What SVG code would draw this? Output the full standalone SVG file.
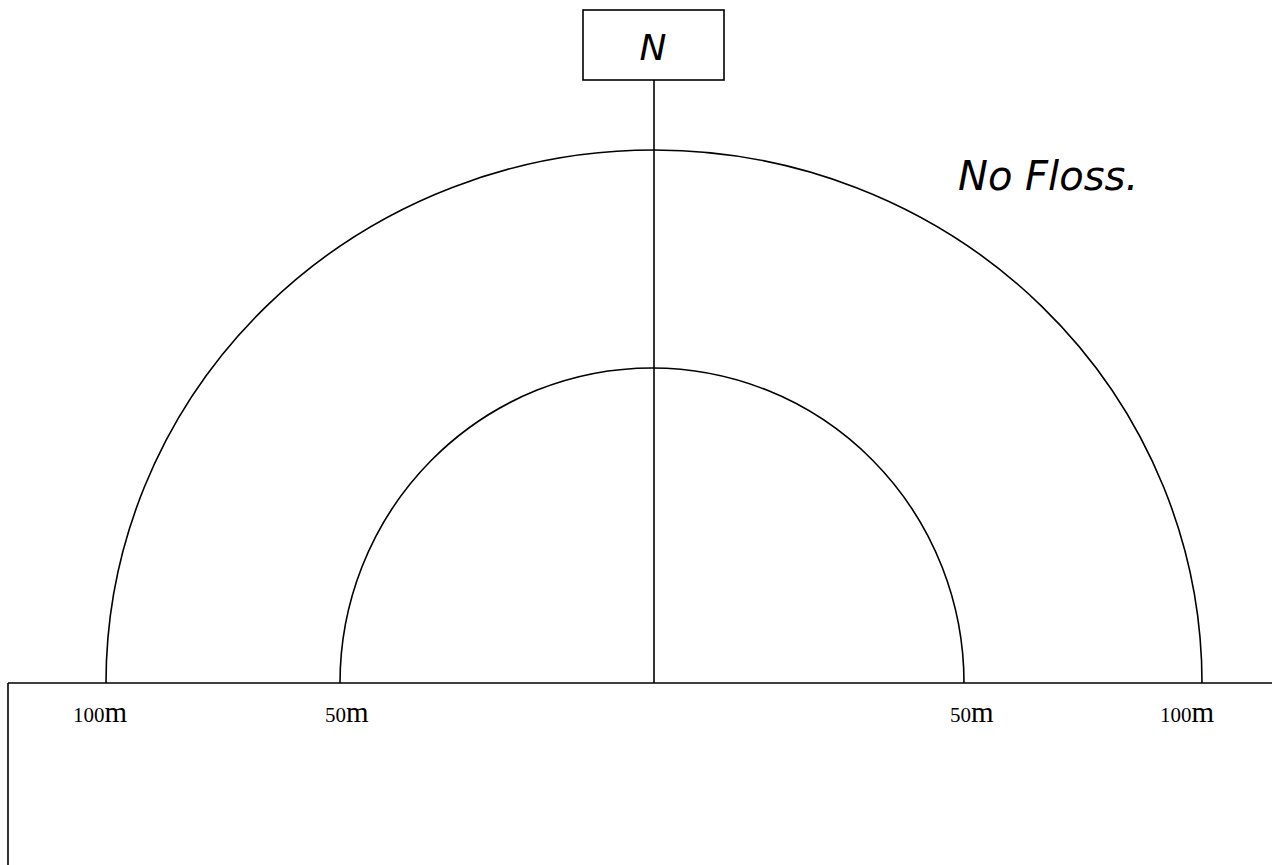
<svg xmlns="http://www.w3.org/2000/svg" width="1272" height="865" viewBox="0 0 1272 865">
<style>
.ln{fill:none;stroke:#000;stroke-width:1.6}
.lbl{font-family:"Liberation Serif",serif;fill:#000}
.d{font-size:21px}
.m{font-size:29px}
.hw{font-family:"DejaVu Sans","Liberation Sans",sans-serif;fill:#000;font-style:italic}
</style>
<rect width="1272" height="865" fill="#fff"/>
<g id="ground">
<path class="ln" d="M8,683 H1272 M8,683 V865"/>
</g>
<g id="outer-arc">
<path class="ln" d="M106,683 A548,533 0 0 1 1202,683"/>
</g>
<g id="inner-arc">
<path class="ln" d="M340,683 A312,315 0 0 1 964,683"/>
</g>
<g id="connectors">
<line class="ln" x1="654" y1="80" x2="654" y2="683"/>
</g>
<g id="north">
<rect class="ln" x="583" y="10" width="141" height="70"/>
<text class="hw" x="653" y="60" font-size="36" text-anchor="middle" font-weight="300">N</text>
</g>
<g id="note">
<text class="hw" x="958" y="190" font-size="40" font-weight="300">No Floss.</text>
</g>
<g id="labels">
<text class="lbl" x="73" y="722"><tspan class="d">100</tspan><tspan class="m">m</tspan></text>
<text class="lbl" x="325" y="722"><tspan class="d">50</tspan><tspan class="m">m</tspan></text>
<text class="lbl" x="950" y="722"><tspan class="d">50</tspan><tspan class="m">m</tspan></text>
<text class="lbl" x="1160" y="722"><tspan class="d">100</tspan><tspan class="m">m</tspan></text>
</g>
</svg>
